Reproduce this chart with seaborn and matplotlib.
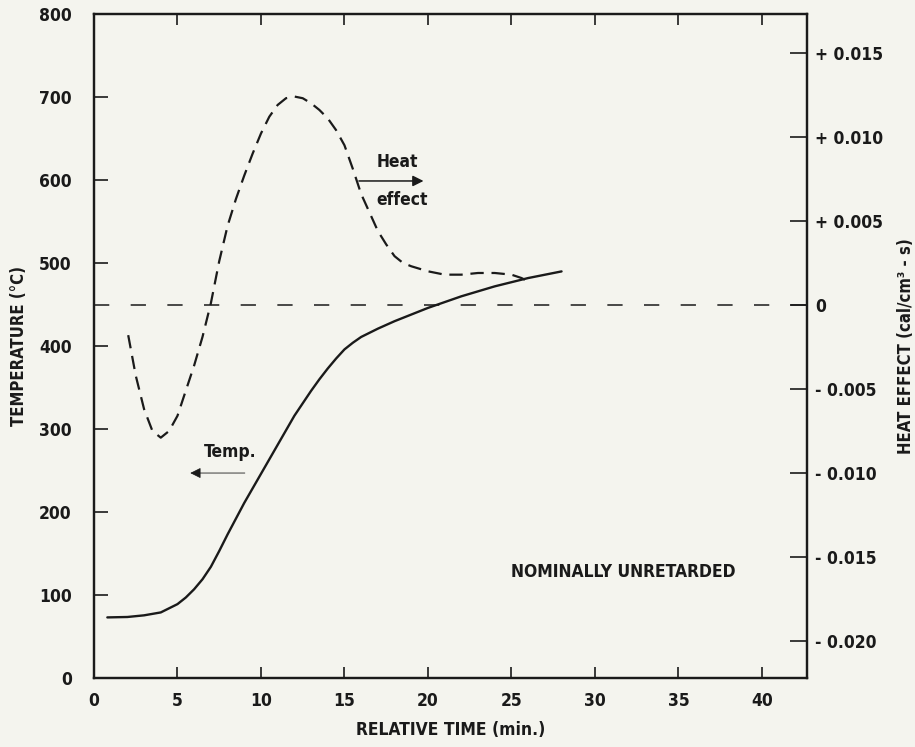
"""Temperature and heat effect vs relative time (nominally unretarded)."""

import matplotlib

matplotlib.use("Agg")
import matplotlib.pyplot as plt
import pandas as pd
import seaborn as sns

# temperature curve (left axis)
temp_time = [0.8, 2, 3, 4, 5, 5.5, 6, 6.5, 7, 7.5, 8, 9, 10, 11, 12, 13, 13.5,
             14, 14.5, 15, 15.5, 16, 17, 18, 19, 20, 21, 22, 23, 24, 25, 26,
             27, 28]
temp_values = [73, 73.5, 75.5, 79, 89, 97, 107, 119, 134, 153, 173, 211, 246,
               281, 316, 346, 360, 373, 385, 396, 404, 411, 421, 430, 438, 446,
               453, 460, 466, 472, 477, 482, 486, 490]

# heat effect curve (right axis)
heat_time = [2.05, 2.5, 3.0, 3.5, 4.0, 4.5, 5.0, 5.5, 6.0, 6.5, 7.0, 7.5, 8.0,
             8.5, 9.0, 9.5, 10.0, 10.5, 11.0, 11.5, 12.0, 12.5, 13.0, 13.5,
             14.0, 14.5, 15.0, 15.5, 16.0, 16.5, 17.0, 17.5, 18.0, 18.5, 19.0,
             20.0, 21.0, 22.0, 23.0, 24.0, 25.0, 25.6, 26.2]
heat_values = [-0.0018, -0.0042, -0.0062, -0.0075, -0.0079, -0.0075, -0.0066,
               -0.0051, -0.0036, -0.0019, 0.0001, 0.0026, 0.0047, 0.0063,
               0.0077, 0.0090, 0.0102, 0.0112, 0.0119, 0.0123, 0.0124, 0.0123,
               0.0120, 0.0116, 0.0111, 0.0104, 0.0095, 0.0081, 0.0066, 0.0055,
               0.0044, 0.0036, 0.0029, 0.0025, 0.0023, 0.0020, 0.0018, 0.0018,
               0.0019, 0.0019, 0.0018, 0.0016, 0.0013]

x_ticks = [0, 5, 10, 15, 20, 25, 30, 35, 40]
temp_ticks = [0, 100, 200, 300, 400, 500, 600, 700, 800]
heat_ticks = [-0.020, -0.015, -0.010, -0.005, 0.0, 0.005, 0.010, 0.015]
heat_tick_labels = ["- 0.020", "- 0.015", "- 0.010", "- 0.005", "0",
                    "+ 0.005", "+ 0.010", "+ 0.015"]

BG = "#f4f4ee"
INK = "#1a1a1a"

sns.set_theme(style="ticks")
plt.rcParams["font.family"] = ["DejaVu Sans"]
plt.rcParams["font.stretch"] = "condensed"
plt.rcParams["font.weight"] = "bold"

fig = plt.figure(figsize=(9.15, 7.47), dpi=100, facecolor=BG)
ax = fig.add_axes([0.1027, 0.0924, 0.7793, 0.8886])
ax.set_facecolor(BG)
ax2 = ax.twinx()

temp_df = pd.DataFrame({"time": temp_time, "temp": temp_values})
heat_df = pd.DataFrame({"time": heat_time, "heat": heat_values})

sns.lineplot(data=temp_df, x="time", y="temp", ax=ax, color=INK, lw=1.7,
             sort=False, estimator=None)
sns.lineplot(data=heat_df, x="time", y="heat", ax=ax2, color=INK, lw=1.6,
             sort=False, estimator=None, dashes=False)
ax2.lines[0].set_dashes([6, 3.5])

# zero line of the heat effect
ax2.axhline(0, color=INK, lw=1.1, dashes=(10, 14), zorder=1)

ax.set_xlim(0, 42.7)
ax.set_ylim(0, 800)
ax2.set_ylim(-0.0222, 0.0173)

ax.set_xticks(x_ticks)
ax.set_yticks(temp_ticks)
ax2.set_yticks(heat_ticks)
ax2.set_yticklabels(heat_tick_labels)

for a in (ax, ax2):
    for side in a.spines.values():
        side.set_linewidth(1.6)
        side.set_color(INK)

ax.tick_params(axis="both", direction="in", length=10, width=1.2,
               labelsize=12.5, colors=INK, top=True, right=False)
ax.tick_params(axis="x", length=8, pad=10)
ax.tick_params(axis="y", pad=16)
ax2.tick_params(axis="y", direction="in", length=12, width=1.2,
                labelsize=12.5, colors=INK, pad=6)

ax.set_xlabel("RELATIVE TIME (min.)", fontsize=12.5, fontweight="bold",
              color=INK, labelpad=8)
ax.set_ylabel("TEMPERATURE (°C)", fontsize=12, fontweight="bold",
              color=INK, labelpad=8)
ax2.set_ylabel("HEAT EFFECT (cal/cm³ - s)", fontsize=12, fontweight="bold",
               color=INK, labelpad=10)

# annotations
ax.annotate("", xy=(19.9, 599), xytext=(15.7, 599),
            arrowprops=dict(arrowstyle="-|>", color=INK, lw=1.1,
                            mutation_scale=16))
ax.text(16.9, 622, "Heat", fontsize=12.5, fontweight="bold", color=INK,
        va="center", ha="left")
ax.text(16.9, 576, "effect", fontsize=12.5, fontweight="bold", color=INK,
        va="center", ha="left")
ax.annotate("", xy=(5.6, 247), xytext=(9.2, 247),
            arrowprops=dict(arrowstyle="-|>", color=INK, lw=0.6,
                            mutation_scale=16))
ax.text(6.6, 272, "Temp.", fontsize=12.5, fontweight="bold", color=INK,
        va="center", ha="left")
ax.text(25.0, 128, "NOMINALLY UNRETARDED", fontsize=12.5, fontweight="bold",
        color=INK, va="center", ha="left")

fig.savefig("out.png", dpi=100, facecolor=BG)
